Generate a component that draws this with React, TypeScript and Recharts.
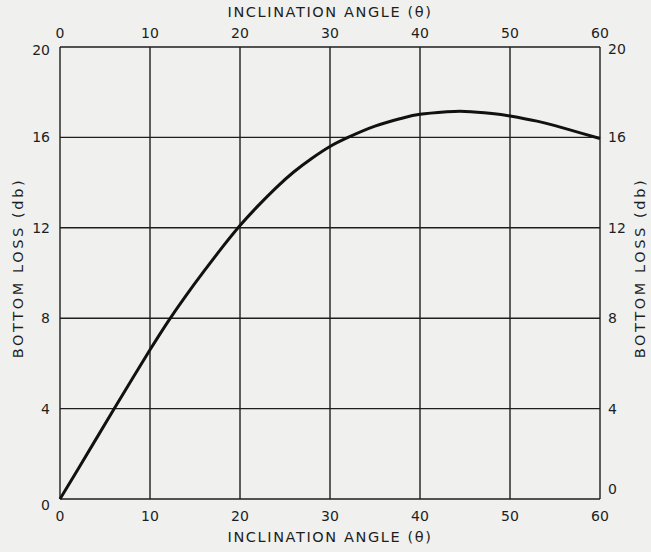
import { LineChart, Line, XAxis, YAxis, CartesianGrid, Label } from 'recharts';

// bottom loss (db) vs inclination angle (deg)
const angles = [0, 2, 4, 6, 8, 10, 12, 14, 16, 18, 20, 22, 24, 26, 28, 30, 32, 35, 38, 40, 43, 45, 48, 50, 53, 55, 58, 60];
const loss = [0, 1.32, 2.65, 3.98, 5.3, 6.6, 7.85, 9.0, 10.08, 11.12, 12.1, 12.97, 13.77, 14.48, 15.08, 15.6, 16.0, 16.5, 16.85, 17.02, 17.13, 17.15, 17.06, 16.95, 16.72, 16.52, 16.18, 15.95];

const angleTicks = [0, 10, 20, 30, 40, 50, 60];
const lossTicks = [0, 4, 8, 12, 16, 20];

const xTitle = 'INCLINATION ANGLE (θ)';
const yTitle = 'BOTTOM LOSS (db)';

const data = angles.map((a, i) => ({ angle: a, loss: loss[i] }));

const ink = '#1e1e1e';
const font = '"DejaVu Sans", sans-serif';
const tickStyle = { fill: ink, fontSize: 14, fontFamily: font };

const YTick = (props: any) => {
  const { x, y, payload, side } = props;
  const v = payload.value;
  let dy = 0;
  if (side === 'left' && v === 0) dy = 6;
  if (side === 'left' && v === 20) dy = 3;
  if (side === 'right' && v === 0) dy = -10;
  if (side === 'right' && v === 20) dy = 2;
  return (
    <text
      x={x}
      y={y + dy}
      dy="0.36em"
      textAnchor={side === 'left' ? 'end' : 'start'}
      fill={ink}
      fontSize={14}
      fontFamily={font}
    >
      {v}
    </text>
  );
};

const AxisTitle = (props: any) => {
  const { viewBox, text, mode } = props;
  const { x, y, width, height } = viewBox;
  const common = { fill: ink, fontSize: 14.5, fontFamily: font, textAnchor: 'middle' as const };
  if (mode === 'bottom')
    return <text {...common} letterSpacing={1.6} x={x + width / 2} y={y + height - 10}>{text}</text>;
  if (mode === 'top')
    return <text {...common} letterSpacing={1.6} x={x + width / 2} y={y + 17}>{text}</text>;
  const cx = mode === 'left' ? x + 23 : x + width - 6;
  const cy = y + height / 2 - 5;
  return (
    <text {...common} letterSpacing={2.6} x={cx} y={cy} transform={`rotate(-90 ${cx} ${cy})`}>
      {text}
    </text>
  );
};

export default function App() {
  return (
    <div style={{ position: 'absolute', left: 0, top: 0, width: 651, height: 552, background: '#f0f0ee' }}>
      <LineChart width={651} height={552} data={data} margin={{ top: 0, right: 0, bottom: 0, left: 0 }}>
        <CartesianGrid xAxisId="b" yAxisId="l" stroke={ink} strokeWidth={1.4} />
        <XAxis
          xAxisId="b"
          dataKey="angle"
          type="number"
          domain={[0, 60]}
          ticks={angleTicks}
          height={53}
          axisLine={false}
          tickLine={false}
          tickSize={0}
          tickMargin={12}
          tick={tickStyle}
        >
          <Label content={<AxisTitle text={xTitle} mode="bottom" />} />
        </XAxis>
        <XAxis
          xAxisId="t"
          orientation="top"
          dataKey="angle"
          type="number"
          domain={[0, 60]}
          ticks={angleTicks}
          height={47}
          axisLine={false}
          tickLine={false}
          tickSize={0}
          tickMargin={9}
          tick={tickStyle}
        >
          <Label content={<AxisTitle text={xTitle} mode="top" />} />
        </XAxis>
        <YAxis
          yAxisId="l"
          dataKey="loss"
          type="number"
          domain={[0, 20]}
          ticks={lossTicks}
          width={60}
          axisLine={false}
          tickLine={false}
          tickSize={0}
          tickMargin={10}
          tick={(p: any) => <YTick {...p} side="left" />}
        >
          <Label content={<AxisTitle text={yTitle} mode="left" />} />
        </YAxis>
        <YAxis
          yAxisId="r"
          dataKey="loss"
          orientation="right"
          type="number"
          domain={[0, 20]}
          ticks={lossTicks}
          width={51}
          axisLine={false}
          tickLine={false}
          tickSize={0}
          tickMargin={8}
          tick={(p: any) => <YTick {...p} side="right" />}
        >
          <Label content={<AxisTitle text={yTitle} mode="right" />} />
        </YAxis>
        <Line
          xAxisId="b"
          yAxisId="l"
          type="natural"
          dataKey="loss"
          stroke="#111"
          strokeWidth={3}
          dot={false}
          isAnimationActive={false}
        />
      </LineChart>
    </div>
  );
}
